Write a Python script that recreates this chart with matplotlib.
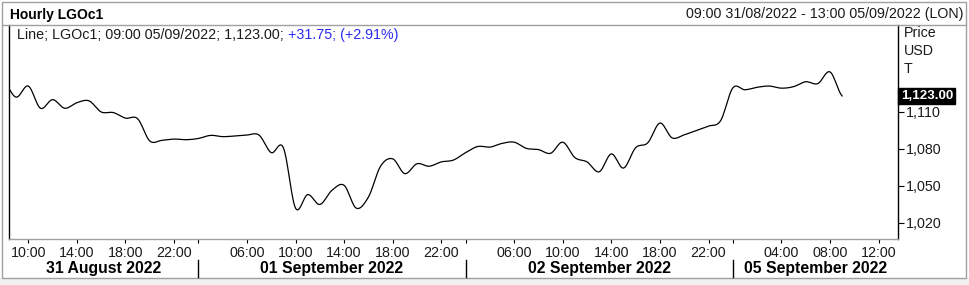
import numpy as np
import matplotlib
matplotlib.use('Agg')
import matplotlib.pyplot as plt
import matplotlib.transforms as mtransforms
from matplotlib.patches import Rectangle
from matplotlib.lines import Line2D

plt.rcParams['font.family'] = ['Liberation Sans', 'DejaVu Sans']

W, H = 969, 285  # output size in pixels
FS = 10.3        # regular text size

# --- data -----------------------------------------------------------------
ric = 'LGOc1'
day_labels = ['31 August 2022', '01 September 2022', '02 September 2022', '05 September 2022']
# hourly bars of each session (London time); Monday's session opens Sunday 23:00
session_hours = [list(range(8, 23)), list(range(1, 23)), list(range(1, 23)), [23] + list(range(0, 14))]
tick_hours = [[10, 14, 18, 22], [6, 10, 14, 18, 22], [6, 10, 14, 18, 22], [4, 8, 12]]
divider_hours = [None, 2, 2, 0]

# hourly prices (USD/T), 31 Aug 08:00 -> 05 Sep 09:00
prices_aug31 = [1134, 1122, 1131, 1113, 1120, 1113, 1117.5, 1119, 1110, 1109.5,
                1105, 1104.5, 1086.5, 1087, 1088]
prices_sep01 = [1087.5, 1088.5, 1091, 1090, 1090.5, 1091.3, 1091.2, 1077, 1081, 1032,
                1043, 1035, 1046.5, 1050.5, 1032, 1041, 1066, 1072, 1060, 1068,
                1066, 1069.5]
prices_sep02 = [1071, 1077, 1082, 1081.5, 1084.5, 1085.5, 1080.5, 1079.5, 1076.5, 1085.5,
                1073, 1069.5, 1061.5, 1076, 1064.5, 1081, 1085, 1101, 1089, 1091.5,
                1095, 1098.5]
prices_sep05 = [1103, 1129.5, 1128, 1130, 1131, 1129.3, 1130.5, 1134.5, 1133, 1142.5, 1123]
prev_close = 1091.25
last_time = '09:00 05/09/2022'
y_ticks = [1020, 1050, 1080, 1110]
range_text = '09:00 31/08/2022 - 13:00 05/09/2022 (LON)'

prices = np.array(prices_aug31 + prices_sep01 + prices_sep02 + prices_sep05)


def px(x, y):
    return x / W, 1 - y / H


def catmull_rom(y, n=12):
    # smooth curve through the hourly points, like the terminal's line style
    p = np.concatenate([[y[0]], y, [y[-1]]])
    t = np.linspace(0, 1, n, endpoint=False)
    xs, ys = [], []
    for i in range(len(y) - 1):
        p0, p1, p2, p3 = p[i], p[i + 1], p[i + 2], p[i + 3]
        seg = 0.5 * (2 * p1 + (-p0 + p2) * t + (2 * p0 - 5 * p1 + 4 * p2 - p3) * t ** 2
                     + (-p0 + 3 * p1 - 3 * p2 + p3) * t ** 3)
        xs.append(i + t)
        ys.append(seg)
    xs.append([len(y) - 1])
    ys.append([y[-1]])
    return np.concatenate(xs), np.concatenate(ys)


# bar positions
starts = np.cumsum([0] + [len(h) for h in session_hours[:-1]])
major_pos, major_lab, divider_pos = [], [], []
for s, hrs, ticks, div in zip(starts, session_hours, tick_hours, divider_hours):
    for k, h in enumerate(hrs):
        if h in ticks and not (div == 0 and k == 0):
            major_pos.append(s + k)
            major_lab.append(f'{h:02d}:00')
        if div is not None and h == div:
            divider_pos.append(s + k)

fig = plt.figure(figsize=(W / 100, H / 100), dpi=100)
fig.patch.set_facecolor('white')

# window chrome
fig.patches.append(Rectangle(px(0, 285), 1, 7 / H, transform=fig.transFigure,
                             facecolor='#f0f0f0', edgecolor='none', zorder=0))
fig.patches.append(Rectangle(px(1.5, 278), 964 / W, 276.5 / H, transform=fig.transFigure,
                             facecolor='none', edgecolor='#a0a0a0', lw=1.0, zorder=1))
fig.lines.append(Line2D([1.5 / W, 965.5 / W], [1 - 24.5 / H] * 2, transform=fig.transFigure,
                        color='#a0a0a0', lw=1.0))

ax = fig.add_axes([9 / W, (H - 239) / H, (898 - 9) / W, (239 - 25) / H])
ax.set_facecolor('white')
xs, ys = catmull_rom(prices)
ax.plot(xs, ys, color='black', lw=0.9, solid_joinstyle='round')

ax.set_xlim(0.41, 73.6)
ax.set_ylim(1007.0, 1180.5)

for side in ['left', 'right']:
    ax.spines[side].set_color('black')
    ax.spines[side].set_linewidth(1.0)
ax.spines['top'].set_visible(False)
ax.spines['bottom'].set_color('#a0a0a0')
ax.spines['bottom'].set_linewidth(1.0)

ax.set_xticks(major_pos)
ax.set_xticklabels(major_lab)
ax.set_xticks(divider_pos, minor=True)
ax.tick_params(axis='x', which='both', direction='out', length=3, width=0.8, color='black',
               labelsize=FS, pad=2, labelcolor='#1a1a1a')

ax.yaxis.tick_right()
ax.set_yticks(y_ticks)
ax.set_yticklabels([f'{v:,}' for v in y_ticks])
ax.tick_params(axis='y', direction='out', length=4, width=0.8, color='black',
               labelsize=FS, pad=2, labelcolor='#1a1a1a')

# day dividers and labels under the hour ticks
blend = mtransforms.blended_transform_factory(ax.transData, fig.transFigure)
for d in divider_pos:
    fig.lines.append(Line2D([d, d], [1 - 260 / H, 1 - 277 / H], transform=blend,
                            color='black', lw=1.0))
edges = [ax.get_xlim()[0]] + divider_pos + [ax.get_xlim()[1]]
for i, lab in enumerate(day_labels):
    ax.text((edges[i] + edges[i + 1]) / 2, 1 - 268 / H, lab, transform=blend,
            ha='center', va='center', fontsize=11.3, fontweight='bold', color='black')

# header texts
fig.text(*px(10, 14.5), f'Hourly {ric}', ha='left', va='center', fontsize=10,
         fontweight='bold', color='black')
fig.text(*px(963, 14), range_text, ha='right', va='center', fontsize=FS, color='#1a1a1a')

last = prices[-1]
chg = last - prev_close
pct = chg / prev_close * 100
t1 = fig.text(*px(17, 35), f'Line; {ric}; {last_time}; {last:,.2f}; ', ha='left',
              va='center', fontsize=FS, color='#1a1a1a')
fig.canvas.draw()
bb = t1.get_window_extent()
fig.text(bb.x1 / W, 1 - 35 / H, f'{chg:+.2f}; ({pct:+.2f}%)', fontsize=FS, color='#2b2bef',
         ha='left', va='center')

# unit labels on the price scale
for yy, s in zip([33, 51, 69], ['Price', 'USD', 'T']):
    fig.text(*px(904, yy), s, ha='left', va='center', fontsize=FS, color='#1a1a1a')

# last price marker
ax.annotate(f'{last:,.2f}', xy=(1, last), xycoords=('axes fraction', 'data'),
            xytext=(2, 0), textcoords='offset points', ha='left', va='center',
            fontsize=9.6, fontweight='bold', color='white',
            bbox=dict(boxstyle='square,pad=0.18', facecolor='black', edgecolor='black'),
            annotation_clip=False)

fig.savefig('out.png', dpi=100)
